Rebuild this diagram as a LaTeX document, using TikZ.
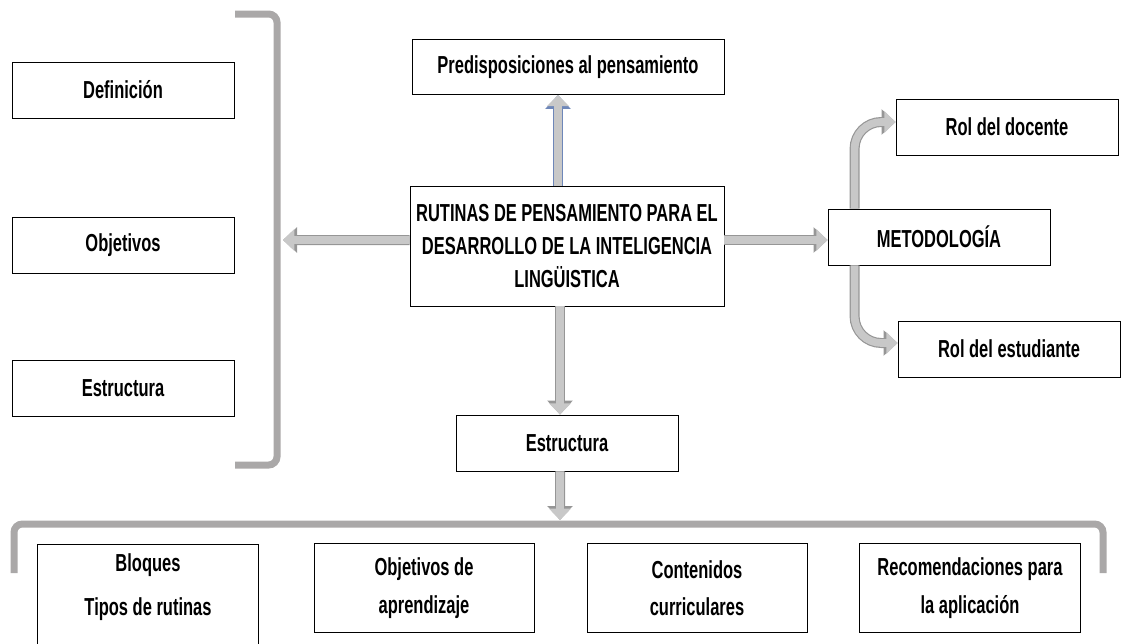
\documentclass[tikz,border=0pt]{standalone}
\usepackage{fontspec}
\setmainfont{Liberation Sans}[FakeStretch=0.67]
\usetikzlibrary{arrows.meta,positioning,calc}
\definecolor{arrowfill}{RGB}{200,200,200}
\definecolor{arrowline}{RGB}{150,150,150}
\definecolor{arrowblue}{RGB}{110,135,185}
\definecolor{bracketgray}{RGB}{170,168,168}

\begin{document}
\begin{tikzpicture}
    [x=0.3mm,y=-0.3mm,
    box/.style 2 args={
        draw,
        line width=0.7pt,
        align=center,
        inner sep=0pt,
        minimum width=#1,
        minimum height=#2,
        font=\bfseries\fontsize{21}{32}\selectfont
    },
    box/.default={66.6mm}{16.8mm},
    barrow/.style={
        draw=arrowfill,
        line width=2.3mm,
        -{Triangle[length=3.4mm,width=6.4mm]},
        preaction={draw=#1,line width=3mm,-{Triangle[length=4.2mm,width=7.4mm]}}
    },
    barrow/.default={arrowline},
    bracket/.style={draw=bracketgray,line width=2.1mm,rounded corners=2.5mm}]

    \useasboundingbox (0,0) rectangle (1127,644);
    \clip (0,0) rectangle (1127,644);

    %%% content
    \node (definicion) [box] at (123,90) {Definición};
    \node (objetivos) [box] at (123,245) {Objetivos};
    \node (estructuraL) [box] at (123,388) {Estructura};

    \node (predisp) [box={93.6mm}{16.5mm}] at (568,67) {Predisposiciones al pensamiento};
    \node (rutinas) [box={94.2mm}{36mm}] at (567,246)
        {RUTINAS DE PENSAMIENTO PARA EL\\[-1.3mm]DESARROLLO DE LA INTELIGENCIA\\[-1.3mm]LINGÜISTICA};
    \node (estructura) [box] at (567,443) {Estructura};

    \node (metodo) [box] at (939,237) {METODOLOGÍA};
    \node (docente) [box] at (1007,127) {Rol del docente};
    \node (estudiante) [box] at (1009,349) {Rol del estudiante};

    \node (bloques) [box={66.3mm}{36mm}] at (148,604) {};
    \node (bloquesText) at (148,587) [font=\bfseries\fontsize{21}{22}\selectfont,align=center]
        {Bloques\\[5.5mm]Tipos de rutinas};
    \node (objAprend) [box={66mm}{26.7mm}] at (424,588) {Objetivos de\\[0mm]aprendizaje};
    \node (contenidos) [box={66mm}{26.7mm}] at (697,588) {Contenidos\\[0mm]curriculares};
    \node (recomend) [box={66.3mm}{26.7mm}] at (970,588) {Recomendaciones para\\[0mm]la aplicación};

    %% brackets
    \draw[bracket] (235,14) -- (277,14) -- (277,465) -- (235,465);
    \draw[bracket] (14,573) -- (14,524) -- (1103,524) -- (1103,573);
    \coordinate (leftBracket) at (283,240);
    \coordinate (bottomBracket) at (560,520);

    %% lines
    \draw[barrow=arrowblue] ([xshift=-2.7mm]rutinas.north) -- ([xshift=-2.7mm]rutinas.north |- predisp.south);
    \draw[barrow] ([yshift=1.8mm]rutinas.west) -- (leftBracket);
    \draw[barrow] ([yshift=1.8mm]rutinas.east) -- ([yshift=1.8mm]rutinas.east -| metodo.west);
    \draw[barrow] ([xshift=-2.1mm]rutinas.south) -- ([xshift=-2.1mm]rutinas.south |- estructura.north);
    \draw[barrow] ([xshift=-2.1mm]estructura.south) -- (bottomBracket);
    \draw[barrow,rounded corners=8mm] ([xshift=8.1mm]metodo.north west) |- ([yshift=1.5mm]docente.west);
    \draw[barrow,rounded corners=8mm] ([xshift=8.1mm]metodo.south west) |- ([yshift=1.8mm]estudiante.west);
\end{tikzpicture}
\end{document}
